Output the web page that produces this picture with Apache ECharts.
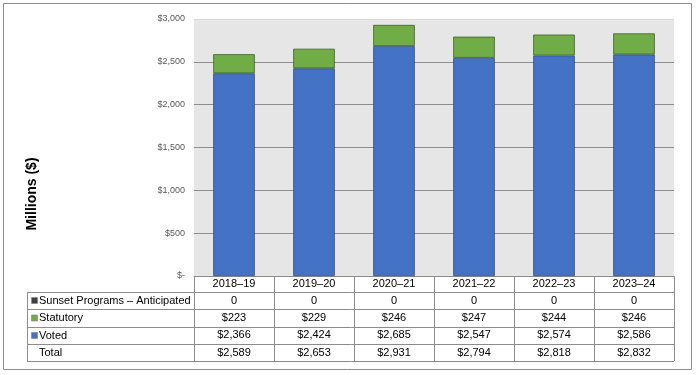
<!DOCTYPE html>
<html>
<head>
<meta charset="utf-8">
<script src="https://cdn.jsdelivr.net/npm/echarts@6/dist/echarts.min.js"></script>
<style>
html, body { margin: 0; padding: 0; background: #fff; }
#main { width: 696px; height: 375px; }
</style>
</head>
<body>
<div id="main"></div>
<script>
var years = ['2018–19', '2019–20', '2020–21', '2021–22', '2022–23', '2023–24'];
var sunset = [0, 0, 0, 0, 0, 0];
var statutory = [223, 229, 246, 247, 244, 246];
var voted = [2366, 2424, 2685, 2547, 2574, 2586];
var totals = [2589, 2653, 2931, 2794, 2818, 2832];
var rowNames = ['Sunset Programs – Anticipated', 'Statutory', 'Voted', 'Total'];
var rowColors = ['#404040', '#70ad47', '#4472c4', null];

var chart = echarts.init(document.getElementById('main'));

// plot area (px)
var gLeft = 194, gTop = 19, gRight = 674, gBottom = 276;
var tableLeft = 27;
var rowLines = [292, 309, 327, 344, 361];

function money(v) {
    return '$' + v.toLocaleString('en-US');
}

var graphics = [];
// outer frame
graphics.push({
    type: 'rect', shape: { x: 3.5, y: 3.5, width: 688, height: 366 },
    style: { fill: null, stroke: '#8c8c8c', lineWidth: 1 }, silent: true
});
// table horizontal lines
rowLines.forEach(function (y) {
    graphics.push({
        type: 'line', shape: { x1: tableLeft, y1: y + 0.5, x2: gRight, y2: y + 0.5 },
        style: { stroke: '#8c8c8c', lineWidth: 1 }, silent: true
    });
});
// left table edge
graphics.push({
    type: 'line', shape: { x1: tableLeft + 0.5, y1: rowLines[0], x2: tableLeft + 0.5, y2: rowLines[4] },
    style: { stroke: '#8c8c8c', lineWidth: 1 }, silent: true
});
// row labels with swatches
rowNames.forEach(function (name, i) {
    var yc = (rowLines[i] + (rowLines[i + 1] || rowLines[i] + 17)) / 2;
    if (i === 3) yc = (rowLines[3] + rowLines[4]) / 2;
    if (rowColors[i]) {
        graphics.push({
            type: 'rect', shape: { x: 31.5, y: yc - 3, width: 6, height: 6 },
            style: { fill: rowColors[i], stroke: '#7f7f7f', lineWidth: 0.6 }, silent: true
        });
    }
    graphics.push({
        type: 'text', x: 39, y: yc,
        style: { text: name, fill: '#000', font: '11px "Liberation Sans", Arial, sans-serif', verticalAlign: 'middle' },
        silent: true
    });
});
// "Millions ($)" title
graphics.push({
    type: 'text', x: 32, y: 194, rotation: Math.PI / 2,
    style: { text: 'Millions ($)', fill: '#000', font: 'bold 14px "Liberation Sans", Arial, sans-serif', align: 'center', verticalAlign: 'middle' },
    silent: true
});

var option = {
    animation: false,
    textStyle: { fontFamily: '"Liberation Sans", Arial, sans-serif' },
    grid: {
        left: gLeft, top: gTop, right: 696 - gRight, bottom: 375 - gBottom,
        show: true, backgroundColor: '#e6e6e6', borderWidth: 0
    },
    xAxis: {
        type: 'category',
        data: years,
        axisLine: { show: true, lineStyle: { color: '#8c8c8c', width: 1 } },
        axisTick: { show: true, alignWithLabel: false, length: 85, lineStyle: { color: '#8c8c8c', width: 1 } },
        axisLabel: {
            margin: 0,
            interval: 0,
            formatter: function (val, idx) {
                return '{h|' + val + '}\n{r|' + sunset[idx] + '}\n{r|' + money(statutory[idx]) +
                    '}\n{r|' + money(voted[idx]) + '}\n{r|' + money(totals[idx]) + '}';
            },
            rich: {
                h: { fontSize: 11, color: '#000', height: 16, lineHeight: 16, fontFamily: '"Liberation Sans", Arial, sans-serif' },
                r: { fontSize: 11, color: '#000', height: 17.3, lineHeight: 17.3, fontFamily: '"Liberation Sans", Arial, sans-serif' }
            }
        }
    },
    yAxis: {
        type: 'value',
        min: 0, max: 3000, interval: 500,
        axisLine: { show: false },
        axisTick: { show: false },
        axisLabel: {
            margin: 9,
            fontSize: 9,
            color: '#595959',
            formatter: function (v) { return v === 0 ? '$-' : money(v); }
        },
        splitLine: {
            lineStyle: { color: ['#8c8c8c', '#8c8c8c', '#8c8c8c', '#8c8c8c', '#8c8c8c', '#8c8c8c', '#d9d9d9'], width: 1 }
        }
    },
    series: [
        {
            name: 'Voted', type: 'bar', stack: 'total', barWidth: '52%',
            data: voted,
            itemStyle: { color: '#4472c4', borderColor: '#2f4b7c', borderWidth: 0.8 }
        },
        {
            name: 'Statutory', type: 'bar', stack: 'total',
            data: statutory,
            itemStyle: { color: '#70ad47', borderColor: '#3e5f2a', borderWidth: 0.8 }
        },
        {
            name: 'Sunset Programs – Anticipated', type: 'bar', stack: 'total',
            data: sunset,
            itemStyle: { color: '#404040', borderWidth: 0 }
        }
    ],
    graphic: graphics
};
chart.setOption(option);
</script>
</body>
</html>
